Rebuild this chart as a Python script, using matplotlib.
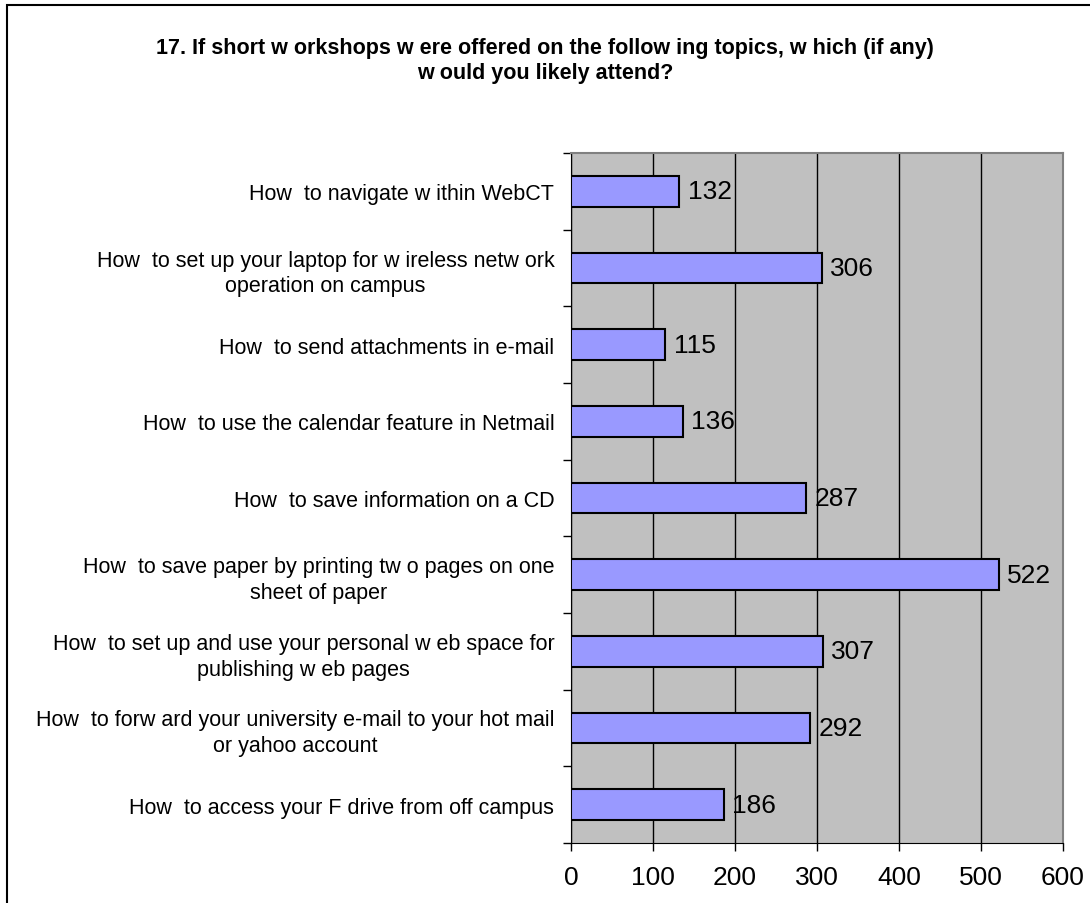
import matplotlib
matplotlib.use("Agg")
import matplotlib.pyplot as plt
from matplotlib.patches import Rectangle
import numpy as np

plt.rcParams['font.family'] = ['Liberation Sans', 'DejaVu Sans']

title = ("17. If short w orkshops w ere offered on the follow ing topics, w hich (if any)\n"
         "w ould you likely attend?")
categories = [
    "How  to navigate w ithin WebCT",
    "How  to set up your laptop for w ireless netw ork\noperation on campus",
    "How  to send attachments in e-mail",
    "How  to use the calendar feature in Netmail",
    "How  to save information on a CD",
    "How  to save paper by printing tw o pages on one\nsheet of paper",
    "How  to set up and use your personal w eb space for\npublishing w eb pages",
    "How  to forw ard your university e-mail to your hot mail\nor yahoo account",
    "How  to access your F drive from off campus",
]
values = [132, 306, 115, 136, 287, 522, 307, 292, 186]
xticks = [0, 100, 200, 300, 400, 500, 600]

W, H = 1090, 904
fig = plt.figure(figsize=(W / 100, H / 100), dpi=100)
fig.patch.set_facecolor('white')

# outer chart border (extends beyond right/bottom edges)
fig.patches.append(Rectangle((7 / W, -0.05), 1.2, 1 - 6 / H + 0.05,
                             transform=fig.transFigure, fill=False,
                             edgecolor='black', linewidth=1.5, zorder=0))

left, right, bottom, top = 571 / W, 1063 / W, (H - 844) / H, (H - 154) / H
ax = fig.add_axes([left, bottom, right - left, top - bottom])
ax.set_facecolor('#C0C0C0')

n = len(categories)
ypos = np.arange(n)
ax.barh(ypos, values, height=0.4, color='#9999FF', edgecolor='black',
        linewidth=1.5, zorder=3)
for y, v in zip(ypos, values):
    ax.annotate(str(v), (v, y), xytext=(6, 0), textcoords='offset points',
                va='center', ha='left', fontsize=19, color='black', zorder=4)

ax.set_xlim(0, 600)
ax.set_ylim(n - 0.5, -0.5)
ax.set_xticks(xticks)
ax.set_xticklabels([str(t) for t in xticks], fontsize=19)
ax.xaxis.grid(True, color='black', linewidth=1.0, zorder=1)
ax.set_axisbelow(True)

ax.set_yticks(np.arange(n + 1) - 0.5)
ax.set_yticklabels([])
ax.set_yticks(ypos, minor=True)
ax.set_yticklabels(categories, minor=True, fontsize=15.5, linespacing=1.3)
for lbl in ax.get_yticklabels(minor=True):
    lbl.set_multialignment('center')
ax.tick_params(axis='y', which='minor', length=0, pad=12)
ax.tick_params(axis='y', which='major', length=6, width=1, color='black', direction='out')
ax.tick_params(axis='x', length=6, width=1, direction='out', pad=10)

for side in ['top', 'right']:
    ax.spines[side].set_color('#808080')
    ax.spines[side].set_linewidth(1.5)
ax.spines['left'].set_color('black')
ax.spines['bottom'].set_color('black')

fig.text(0.5, (H - 61) / H, title, ha='center', va='center', fontsize=15.5,
         fontweight='bold', linespacing=1.3)

fig.savefig('out.png', dpi=100)
